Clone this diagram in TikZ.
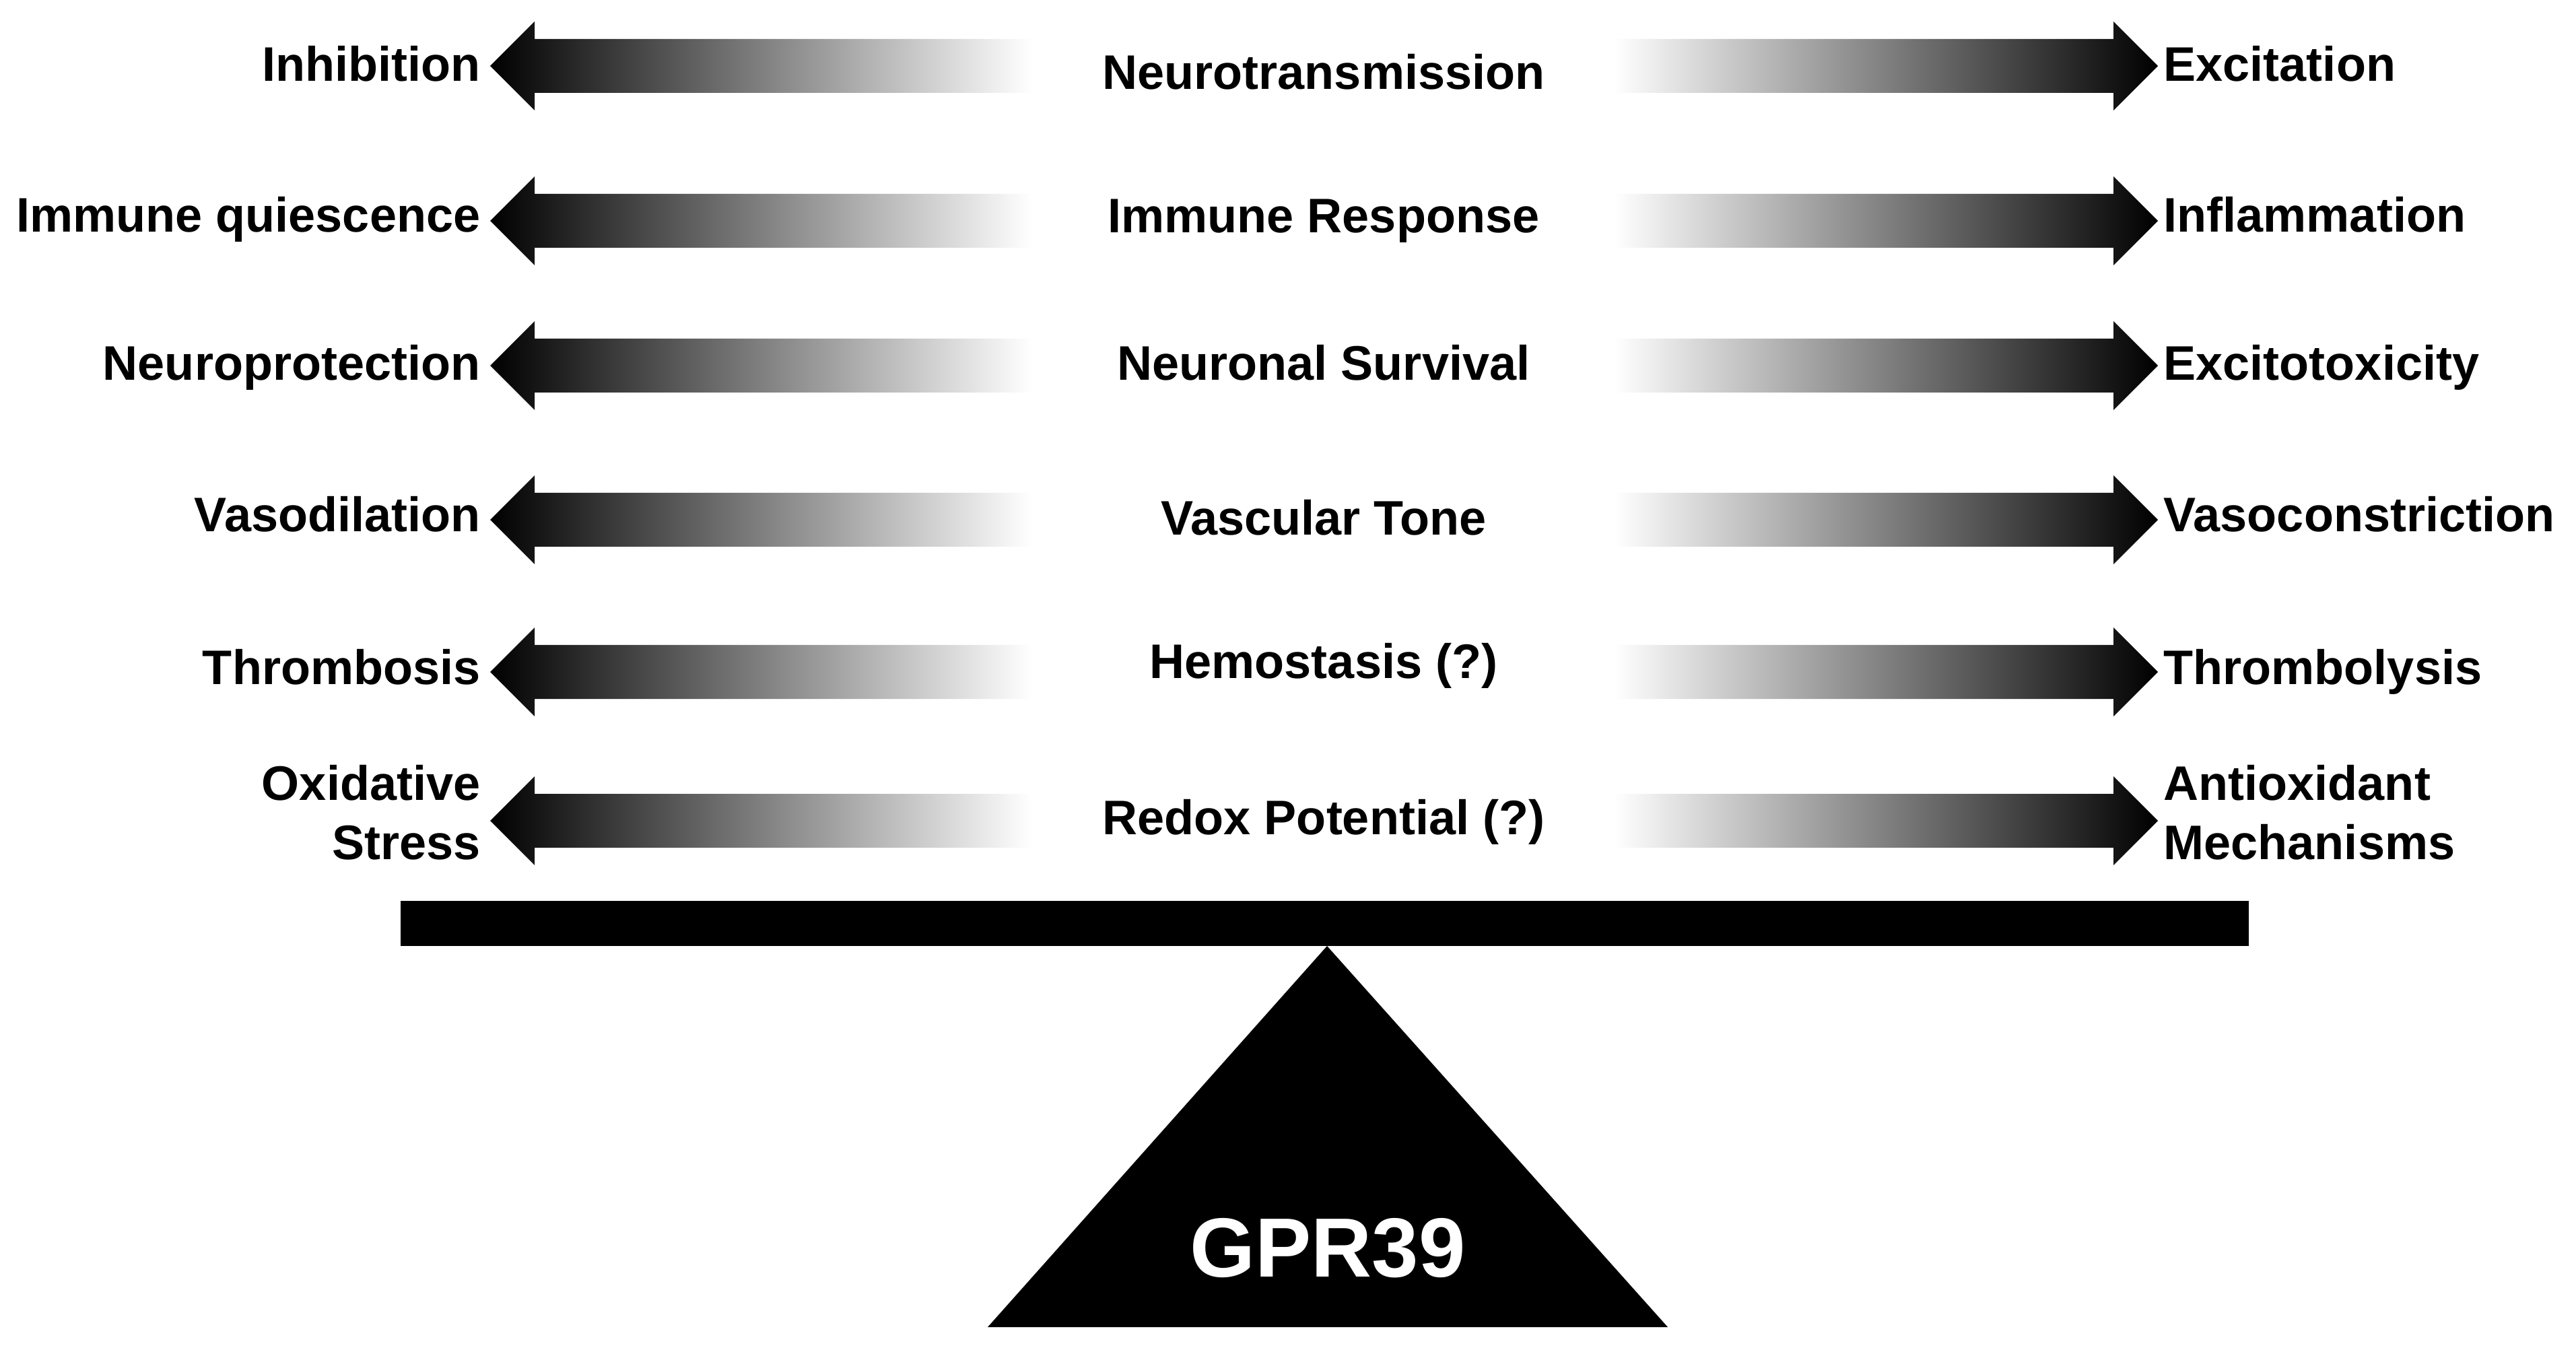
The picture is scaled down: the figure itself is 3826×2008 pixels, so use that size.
\documentclass[tikz,border=0pt]{standalone}
\usepackage{fontspec}
\setmainfont{Liberation Sans}
\newcommand\garrowL[1]{%
  \shade[left color=black,right color=white]
    (728,#1) -- (794,#1-66) -- (794,#1-40) -- (1532,#1-40)
    -- (1532,#1+40) -- (794,#1+40) -- (794,#1+66) -- cycle;}
\newcommand\garrowR[1]{%
  \shade[left color=white,right color=black]
    (2397,#1-40) -- (3139,#1-40) -- (3139,#1-66) -- (3205,#1)
    -- (3139,#1+66) -- (3139,#1+40) -- (2397,#1+40) -- cycle;}
\begin{document}
\begin{tikzpicture}[x=0.1mm,y=-0.1mm,
  lab/.style={font=\bfseries\fontsize{20.5}{25}\selectfont, inner sep=0pt, text=black},
  lft/.style={lab, anchor=base east},
  rgt/.style={lab, anchor=base west},
  mid/.style={lab, anchor=base}]
\useasboundingbox[fill=white] (0,0) rectangle (3826,2008);

% arrows
\garrowL{98}   \garrowR{98}
\garrowL{328}  \garrowR{328}
\garrowL{543}  \garrowR{543}
\garrowL{772}  \garrowR{772}
\garrowL{998}  \garrowR{998}
\garrowL{1219} \garrowR{1219}

% left labels
\node[lft] (l1) at (714,121) {Inhibition};
\node[lft] (l2) at (714,345) {Immune quiescence};
\node[lft] (l3) at (714,565) {Neuroprotection};
\node[lft] (l4) at (714,790) {Vasodilation};
\node[lft] (l5) at (714,1016) {Thrombosis};
\node[lft, align=right] (l6) at (714,1276) {Oxidative\\Stress};

% centre labels
\node[mid] (c1) at (1966,133) {Neurotransmission};
\node[mid] (c2) at (1966,346) {Immune Response};
\node[mid] (c3) at (1966,565) {Neuronal Survival};
\node[mid] (c4) at (1966,795) {Vascular Tone};
\node[mid] (c5) at (1966,1007) {Hemostasis (?)};
\node[mid] (c6) at (1966,1239) {Redox Potential (?)};

% right labels
\node[rgt] (r1) at (3213,121) {Excitation};
\node[rgt] (r2) at (3213,345) {Inflammation};
\node[rgt] (r3) at (3213,565) {Excitotoxicity};
\node[rgt] (r4) at (3213,790) {Vasoconstriction};
\node[rgt] (r5) at (3213,1016) {Thrombolysis};
\node[rgt, align=left] (r6) at (3213,1276) {Antioxidant\\Mechanisms};

% balance
\fill[black] (595,1338) rectangle (3340,1405);
\fill[black] (1971,1405) -- (2477,1971) -- (1467,1971) -- cycle;
\node[font=\bfseries\fontsize{35.5}{40}\selectfont, text=white, inner sep=0pt, anchor=base] (gpr) at (1972,1896) {GPR39};
\end{tikzpicture}
\end{document}
